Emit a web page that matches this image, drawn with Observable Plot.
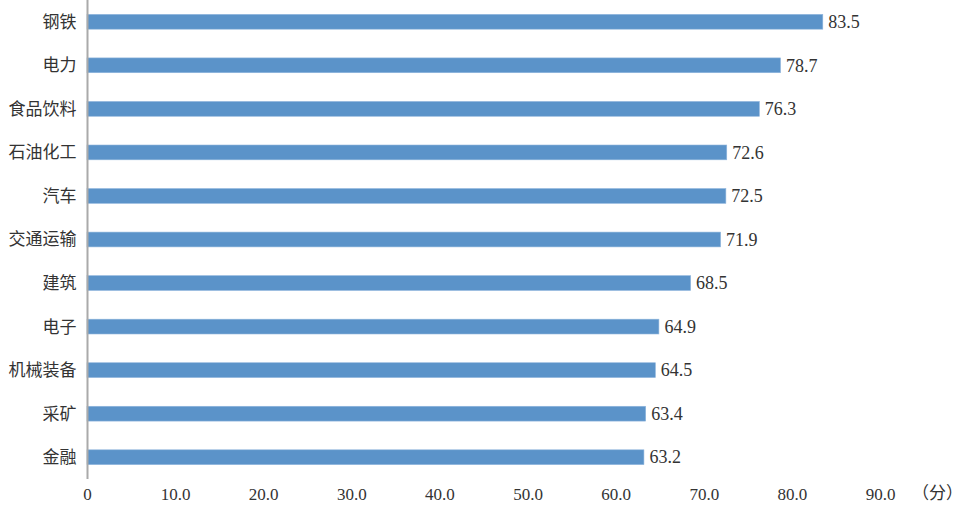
<!DOCTYPE html>
<html><head><meta charset="utf-8">
<script src="https://cdn.jsdelivr.net/npm/d3@7"></script>
<script src="https://cdn.jsdelivr.net/npm/@observablehq/plot@0.6"></script>
<style>
body{margin:0;background:#fff;}
#chart svg{display:block;}
</style>
</head><body><div id="chart"></div>
<script>
const categories = ["钢铁","电力","食品饮料","石油化工","汽车","交通运输","建筑","电子","机械装备","采矿","金融"];
const values = [83.5,78.7,76.3,72.6,72.5,71.9,68.5,64.9,64.5,63.4,63.2];
const tickValues = [0,10,20,30,40,50,60,70,80,90];
const tickLabels = ["0","10.0","20.0","30.0","40.0","50.0","60.0","70.0","80.0","90.0"];
const unitLabel = "（分）";

const data = categories.map((c,i)=>({cat:c, v:values[i], label:values[i].toFixed(1)}));
const serif = "Liberation Serif, Times New Roman, serif";
const cjk = "Noto Sans CJK SC, sans-serif";

const chart = Plot.plot({
  width: 965,
  height: 509,
  marginLeft: 87,
  marginRight: 5,
  marginTop: 0,
  marginBottom: 30,
  style: {fontFamily: serif, fontSize: "16px", color: "#333"},
  x: {domain: [0, 100], range: [87, 87 + 8.812*100], axis: null},
  y: {domain: categories, paddingInner: 0.66, paddingOuter: 0.33, round: false, axis: null},
  marks: [
    Plot.barX(data, {y: "cat", x: "v", fill: "#5b93c9", stroke: "#8fb5dc", strokeWidth: 0.6}),
    Plot.text(data, {y: "cat", x: "v", text: "label", dx: 5, textAnchor: "start", fill: "#333", fontSize: 18, fontFamily: serif}),
    Plot.axisY({label: null, tickSize: 0, tickPadding: 11, fontSize: 17, fontFamily: cjk, color: "#333"}),
    Plot.ruleX([0], {stroke: "#aaa", strokeWidth: 2}),
    Plot.text(tickValues, {x: d=>d, frameAnchor: "bottom", dy: 8, text: (d,i)=>tickLabels[i], fill: "#333", fontSize: 17, fontFamily: serif, lineAnchor: "top"}),
    Plot.text([unitLabel], {x: 90, frameAnchor: "bottom", dx: 57, dy: 7, text: d=>d, fill: "#333", fontSize: 17, fontFamily: cjk, lineAnchor: "top"})
  ]
});
document.getElementById("chart").appendChild(chart);
</script>
</body></html>
